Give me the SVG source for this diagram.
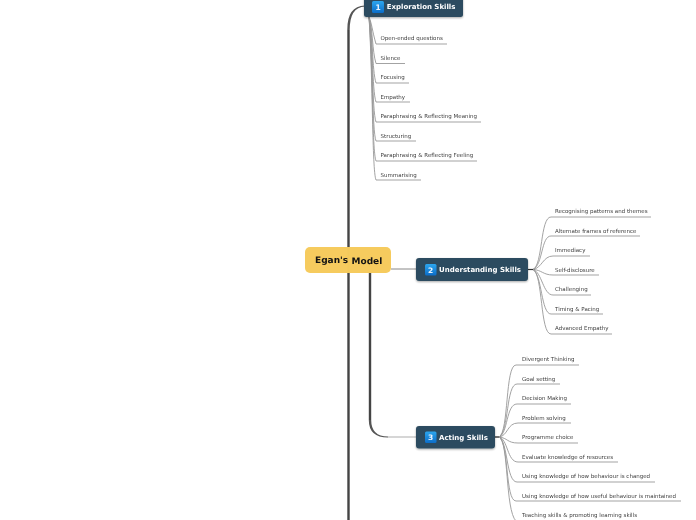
<svg xmlns="http://www.w3.org/2000/svg" width="696" height="520" viewBox="0 0 696 520">
<defs>
<linearGradient id="ic" x1="0" y1="0" x2="0" y2="1"><stop offset="0" stop-color="#2aa5ee"/><stop offset="1" stop-color="#0a6cc8"/></linearGradient>
<filter id="sh" x="-10%" y="-20%" width="120%" height="150%"><feDropShadow dx="0" dy="1" stdDeviation="0.8" flood-color="#000" flood-opacity="0.35"/></filter>
</defs>
<style>
text{font-family:"DejaVu Sans",Verdana,sans-serif;text-rendering:geometricPrecision}
.leaf{font-size:5.5px;fill:#3a3a3a}
.topic{font-size:7px;font-weight:bold;fill:#fff}
.num{font-size:7.500px;font-weight:bold;fill:#e8f4ff;text-anchor:middle}
.box{fill:#2c4a5e;filter:url(#sh)}
.icon{fill:url(#ic)}
.trunk{fill:none;stroke:#444;stroke-width:2.400}
.taper{fill:#555;stroke:none}
.br{fill:none;stroke:#999;stroke-width:.9}
.soft{opacity:.99}
</style>
<g id="connectors">
<path class="trunk" d="M348.500 520V30"/>
<path class="taper" d="M347.300 30Q347 6 365 5.500V6.500Q349.700 7 349.700 30Z"/>
<path class="trunk" d="M370 273V420"/>
<path class="taper" d="M368.800 420Q368.800 437.500 388 437.600V436.600Q371.200 436.400 371.200 420Z"/>
<path d="M388 437H416" fill="none" stroke="#c4c4c4" stroke-width="1.400"/>
<path d="M391 269H416" fill="none" stroke="#888" stroke-width="1"/>
<path d="M528 269.500H535" fill="none" stroke="#333" stroke-width="1.200"/>
<path d="M495 437H501" fill="none" stroke="#333" stroke-width="1.400"/>
<path d="M369 17C372 24 372 30 376 44H447" class="br"/>
<path d="M369 17C373 30 372 50 376 63.500H405" class="br"/>
<path d="M369 17C373 35 372 70 376 83H409" class="br"/>
<path d="M369 17C373 40 372 90 376 102H410" class="br"/>
<path d="M369 17C373 50 372 110 376 122H481" class="br"/>
<path d="M369 17C373 60 372 130 376 141H416" class="br"/>
<path d="M369 17C373 70 372 150 376 161H477" class="br"/>
<path d="M369 17C373 80 372 170 376 180H421" class="br"/>
<path d="M533 269.500C543 265 540 217 551 217H651" class="br"/>
<path d="M533 269.500C543 265 541 236 551 236H640" class="br"/>
<path d="M533 269.500C542 268 543 256 553 256H590" class="br"/>
<path d="M533 269.500C542 270 543 275 553 275H599" class="br"/>
<path d="M533 269.500C542 272 543 295 553 295H591" class="br"/>
<path d="M533 269.500C542 274 541 314 551 314H603" class="br"/>
<path d="M533 269.500C543 274 540 334 551 334H612" class="br"/>
<path d="M499 437C509 432 505 365 516 365H579" class="br"/>
<path d="M499 437C509 432 506 384 517 384H560" class="br"/>
<path d="M499 437C508 434 506 404 517 404H571" class="br"/>
<path d="M499 437C508 436 507 423 518 423H571" class="br"/>
<path d="M499 437C508 438 507 443 518 443H578" class="br"/>
<path d="M499 437C508 439 507 462 518 462H618" class="br"/>
<path d="M499 437C508 441 506 482 517 482H655" class="br"/>
<path d="M499 437C509 442 505 501 516 501H681" class="br"/>
<path d="M499 437C509 442 505 510 516 521" class="br"/>
</g>
<g id="root" class="soft">
<rect x="305" y="247" width="86" height="26" rx="5" fill="#f6cb5d"/>
<text x="315" y="263" font-size="9px" font-weight="bold" fill="#111">Egan's</text>
<text x="351.500" y="264" font-size="9px" font-weight="bold" fill="#111">Model</text>
</g>
<g id="exploration" class="soft">
<rect class="box" x="364" y="-8" width="99" height="25" rx="2.500"/>
<rect class="icon" x="372" y="1" width="12" height="12" rx="1.500"/>
<text class="num" x="378" y="9.800">1</text>
<text class="topic" x="386.700" y="9">Exploration Skills</text>
</g>
<g id="understanding" class="soft">
<rect class="box" x="416" y="258" width="112" height="23" rx="3"/>
<rect class="icon" x="425" y="264" width="11.500" height="11.500" rx="1.500"/>
<text class="num" x="430.700" y="272.500">2</text>
<text class="topic" x="439" y="272">Understanding Skills</text>
</g>
<g id="acting" class="soft">
<rect class="box" x="416" y="426" width="79" height="22.500" rx="3"/>
<rect class="icon" x="425" y="431.500" width="11.500" height="11.500" rx="1.500"/>
<text class="num" x="430.700" y="440">3</text>
<text class="topic" x="439" y="440">Acting Skills</text>
</g>
<g id="exploration-leaves" class="soft">
<text class="leaf" x="380.500" y="40">Open-ended questions</text>
<text class="leaf" x="380.500" y="60">Silence</text>
<text class="leaf" x="380.500" y="79">Focusing</text>
<text class="leaf" x="380.500" y="99">Empathy</text>
<text class="leaf" x="380.500" y="118">Paraphrasing &amp; Reflecting Meaning</text>
<text class="leaf" x="380.500" y="138">Structuring</text>
<text class="leaf" x="380.500" y="157">Paraphrasing &amp; Reflecting Feeling</text>
<text class="leaf" x="380.500" y="177">Summarising</text>
</g>
<g id="understanding-leaves" class="soft">
<text class="leaf" x="555" y="213">Recognising patterns and themes</text>
<text class="leaf" x="555" y="233">Alternate frames of reference</text>
<text class="leaf" x="555" y="252">Immediacy</text>
<text class="leaf" x="555" y="272">Self-disclosure</text>
<text class="leaf" x="555" y="291">Challenging</text>
<text class="leaf" x="555" y="311">Timing &amp; Pacing</text>
<text class="leaf" x="555" y="330">Advanced Empathy</text>
</g>
<g id="acting-leaves" class="soft">
<text class="leaf" x="522" y="361">Divergent Thinking</text>
<text class="leaf" x="522" y="381">Goal setting</text>
<text class="leaf" x="522" y="400">Decision Making</text>
<text class="leaf" x="522" y="420">Problem solving</text>
<text class="leaf" x="522" y="439">Programme choice</text>
<text class="leaf" x="522" y="459">Evaluate knowledge of resources</text>
<text class="leaf" x="522" y="478">Using knowledge of how behaviour is changed</text>
<text class="leaf" x="522" y="498">Using knowledge of how useful behaviour is maintained</text>
<text class="leaf" x="522" y="517">Teaching skills &amp; promoting learning skills</text>
</g>
</svg>
